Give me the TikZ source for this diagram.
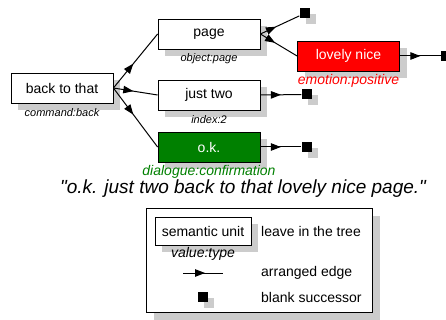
\documentclass[tikz,border=0pt]{standalone}
\usepackage{fontspec}
\setmainfont{Liberation Sans}[Ligatures=TeXOff]
\usetikzlibrary{positioning,shadows,arrows.meta,decorations.markings}

\definecolor{okgreen}{RGB}{0,128,0}
\definecolor{shade}{RGB}{204,204,204}

\tikzset{
unit/.style={draw,fill=white,line width=.8pt,minimum width=102pt,minimum height=30pt,inner sep=0pt,
  font=\fontsize{14}{16}\selectfont,
  drop shadow={shadow xshift=7pt,shadow yshift=-7pt,fill=shade,opacity=1}},
blank/.style={fill=black,minimum size=10pt,inner sep=0pt,
  drop shadow={shadow xshift=6pt,shadow yshift=-6pt,fill=shade,opacity=1}},
tag/.style={inner sep=0pt,text height=8pt,text depth=2pt,font=\fontsize{11}{13}\selectfont\itshape},
bigtag/.style={inner sep=0pt,text height=10pt,text depth=3pt,font=\fontsize{14}{16}\selectfont\itshape},
arranged/.style={line width=1pt,postaction={decorate},
  decoration={markings,mark=at position #1 with {\arrow{Triangle[length=10pt,width=7.5pt]}}}},
arranged/.default=.5
}

\begin{document}
\begin{tikzpicture}[x=1pt,y=-1pt]
\useasboundingbox (0,0) rectangle (446,320);

% semantic units
\node (back) [unit] at (62,88) {back to that};
\node (page) [unit] at (209,34) {page};
\node (two) [unit] at (209,95) {just two};
\node (ok) [unit,fill=okgreen,text=white] at (209,147) {o.k.};
\node (nice) [unit,fill=red,text=white] at (348.5,56) {lovely nice};

\node (tback) [tag, below=5pt of back] {command:back};
\node (tpage) [tag, below=4pt of page] {object:page};
\node (ttwo) [tag, below=5pt of two] {index:2};
\node (tok) [bigtag, text=okgreen, below=3pt of ok] {dialogue:confirmation};
\node (tnice) [bigtag, text=red, below=2.5pt of nice] {emotion:positive};

% blank successors
\node (b1) [blank] at (304.5,13.5) {};
\node (b2) [blank] at (446,56) {};
\node (b3) [blank] at (306.5,94.5) {};
\node (b4) [blank] at (306.5,147) {};

\foreach \c in {page,two,ok} {
\draw[arranged=.45] (back.east) -- (\c.west);
}
\draw[arranged=.4] (page.east) -- (b1);
\draw[arranged=.4] (page.east) -- (nice.west);
\draw[arranged] (nice.east) -- (b2);
\draw[arranged] (two.east) -- (b3);
\draw[arranged] (ok.east) -- (b4);

\node (quote) at (243,189) {\fontsize{19}{21}\selectfont\itshape "o.k. just two back to that lovely nice page."};

% legend
\node (legend) [draw,fill=white,line width=.8pt,minimum width=226pt,minimum height=104pt,
  drop shadow={shadow xshift=8pt,shadow yshift=-8pt,fill=shade,opacity=1}] at (259,260) {};
\node (lunit) [unit,minimum width=96pt,minimum height=28pt] at (203,231) {semantic unit};
\node (ltag) [bigtag] at (203,254) {value:type};
\coordinate (ea) at (183,273);
\coordinate (eb) at (223,273);
\draw[arranged=.55] (ea) -- (eb);
\node (lblank) [blank] at (203,296.5) {};

\node (tleave) [anchor=west,inner sep=0pt,font=\fontsize{14}{16}\selectfont] at (261,231) {leave in the tree};
\node (tedge) [anchor=west,inner sep=0pt,font=\fontsize{14}{16}\selectfont] at (261,273) {arranged edge};
\node (tblank) [anchor=west,inner sep=0pt,font=\fontsize{14}{16}\selectfont] at (261,297) {blank successor};
\end{tikzpicture}
\end{document}
